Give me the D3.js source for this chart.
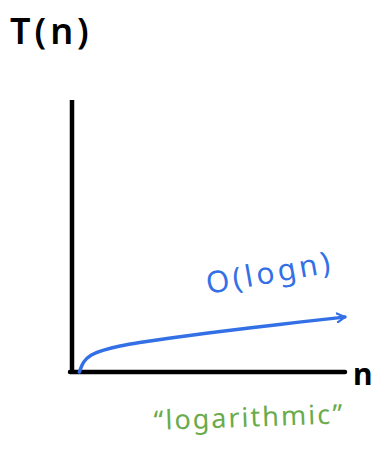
<!DOCTYPE html>
<html>
<head>
<meta charset="utf-8">
<script src="https://cdn.jsdelivr.net/npm/d3@7"></script>
<style>
  html, body { margin: 0; padding: 0; background: #fff; }
  svg { display: block; }
</style>
</head>
<body>
<div id="chart"></div>
<script>
// Hand-drawn O(log n) sketch (n and T in arbitrary units)
const nValues = [0.27, 0.40, 0.66, 1.14, 1.76, 2.38, 3.59, 4.95, 6.52, 8.35, 10.0];
const tValues = [0.0, 0.37, 0.63, 0.81, 0.96, 1.07, 1.25, 1.43, 1.62, 1.84, 2.02];
const xDomain = [0, 10];
const yDomain = [0, 10];

const yLabel = 'T(n)';
const xLabel = 'n';
const curveLabel = 'O(logn)';
const caption = '\u201Clogarithmic\u201D';

const W = 372, H = 467;
const margin = { top: 100, right: 27, bottom: 95, left: 72 };

const svg = d3.select('#chart').append('svg')
  .attr('width', W)
  .attr('height', H);

const x = d3.scaleLinear().domain(xDomain).range([margin.left, W - margin.right]);
const y = d3.scaleLinear().domain(yDomain).range([H - margin.bottom, margin.top]);

const blue = '#3370e6';
const green = '#6aab4b';

// arrowhead for the curve end
svg.append('defs').append('marker')
  .attr('id', 'arrow')
  .attr('viewBox', '0 0 10 10')
  .attr('refX', 8).attr('refY', 5)
  .attr('markerWidth', 3.2).attr('markerHeight', 3.2)
  .attr('orient', 'auto')
  .append('path')
  .attr('d', 'M1,1 L8,5 L1,9')
  .attr('fill', 'none')
  .attr('stroke', blue)
  .attr('stroke-width', 2)
  .attr('stroke-linecap', 'round')
  .attr('stroke-linejoin', 'round');

// axes (plain hand-drawn style lines)
svg.append('line')
  .attr('x1', x(0)).attr('x2', x(0))
  .attr('y1', y(yDomain[1])).attr('y2', y(0))
  .attr('stroke', '#000').attr('stroke-width', 4.5)
  .attr('stroke-linecap', 'butt');
svg.append('line')
  .attr('x1', x(0) - 2).attr('x2', x(xDomain[1]))
  .attr('y1', y(0)).attr('y2', y(0))
  .attr('stroke', '#000').attr('stroke-width', 4.5)
  .attr('stroke-linecap', 'round');

// the log curve
const pts = nValues.map((n, i) => ({ n, t: tValues[i] }));
const line = d3.line()
  .x((d) => x(d.n))
  .y((d) => y(d.t))
  .curve(d3.curveBasis);

svg.append('path')
  .datum(pts)
  .attr('d', line)
  .attr('fill', 'none')
  .attr('stroke', blue)
  .attr('stroke-width', 3.5)
  .attr('stroke-linecap', 'round')
  .attr('marker-end', 'url(#arrow)');

// labels
const font = '"Noto Sans", "DejaVu Sans", sans-serif';

svg.append('text')
  .attr('x', 10).attr('y', 44)
  .attr('font-family', font)
  .attr('font-size', 36)
  .attr('font-weight', 600)
  .attr('letter-spacing', 4)
  .attr('fill', '#000')
  .text(yLabel);

svg.append('text')
  .attr('x', 353).attr('y', 385)
  .attr('font-family', font)
  .attr('font-size', 30)
  .attr('font-weight', 'bold')
  .attr('fill', '#000')
  .text(xLabel);

svg.append('text')
  .attr('transform', 'translate(208,294) rotate(-10)')
  .attr('font-family', font)
  .attr('font-size', 30)
  .attr('letter-spacing', 3.5)
  .attr('fill', blue)
  .text(curveLabel);

svg.append('text')
  .attr('transform', 'translate(154,430) rotate(-2)')
  .attr('font-family', font)
  .attr('font-size', 27)
  .attr('letter-spacing', 2)
  .attr('fill', green)
  .text(caption);
</script>
</body>
</html>
